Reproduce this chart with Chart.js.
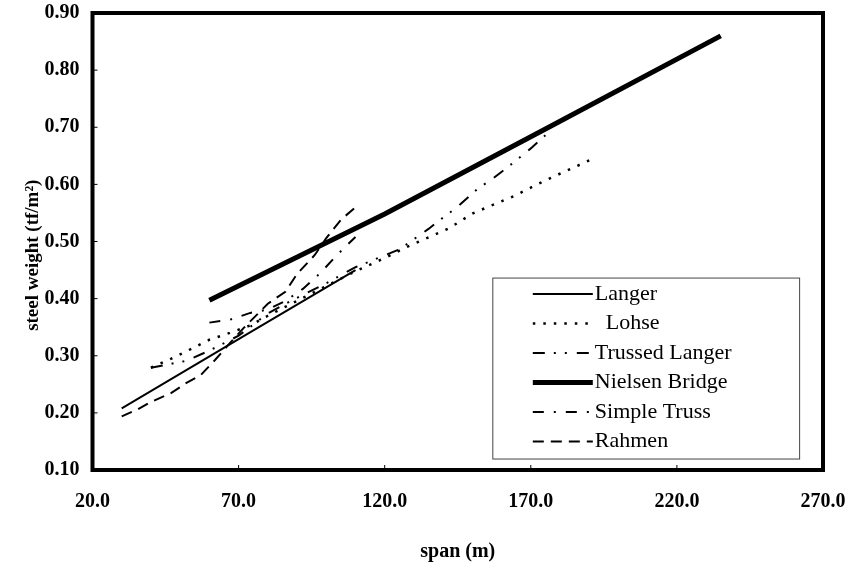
<!DOCTYPE html>
<html>
<head>
<meta charset="utf-8">
<script src="https://cdn.jsdelivr.net/npm/chart.js@4.4.1/dist/chart.umd.min.js"></script>
<style>
    html, body { margin: 0; padding: 0; background: #fff; }
</style>
</head>
<body>
<canvas id="steel_chart" width="850" height="562"></canvas>
<script>
'use strict';
// values: span (m) vs steel weight (tf/m2)
var langerSpan = [30, 70, 110];
var langerWeight = [0.208, 0.329, 0.450];

var lohseSpan = [40, 47, 53, 60, 67, 74, 80, 90, 100, 110, 120, 127, 142, 150, 164, 175, 190];
var lohseWeight = [0.279, 0.295, 0.310, 0.328, 0.340, 0.353, 0.370, 0.396, 0.422, 0.448, 0.471, 0.489, 0.523, 0.549, 0.579, 0.607, 0.642];

var trussedSpan = [40, 45, 52, 60, 70, 80, 86, 100, 110, 125, 135, 139, 145, 152, 157, 165, 170, 175];
var trussedWeight = [0.279, 0.284, 0.291, 0.309, 0.335, 0.374, 0.391, 0.427, 0.455, 0.486, 0.522, 0.538, 0.561, 0.593, 0.610, 0.642, 0.663, 0.686];

var nielsenSpan = [60, 120, 175, 235];
var nielsenWeight = [0.397, 0.548, 0.697, 0.860];

var simpleSpan = [60, 67, 74, 80, 86, 92, 98, 104, 110];
var simpleWeight = [0.358, 0.363, 0.375, 0.381, 0.396, 0.417, 0.445, 0.478, 0.508];

var rahmenSpan = [30, 35, 40, 47, 52, 57, 62, 67, 72, 80, 86, 90, 96, 100, 105, 110];
var rahmenWeight = [0.194, 0.205, 0.219, 0.235, 0.252, 0.266, 0.293, 0.322, 0.350, 0.391, 0.412, 0.443, 0.476, 0.506, 0.538, 0.560];

var xTicks = [20, 70, 120, 170, 220, 270];
var yTicks = [0.1, 0.2, 0.3, 0.4, 0.5, 0.6, 0.7, 0.8, 0.9];

function pts (xs, ys) {
    var out = [];
    for (let i = 0; i < xs.length; i++) {
        out.push({ x: xs[i], y: ys[i] });
    }
    return out;
}

function series (label, xs, ys, width, dash) {
    return {
        label: label,
        data: pts(xs, ys),
        showLine: true,
        borderColor: '#000',
        backgroundColor: '#000',
        borderWidth: width,
        borderDash: dash,
        pointRadius: 0,
        tension: 0,
        fill: false
    };
}

var serif = "'Liberation Serif', 'Times New Roman', serif";

// box round the plot, inward tick marks, y title and the boxed legend
var framePlugin = {
    id: 'frame',
    afterDraw: function (chart) {
        var ctx = chart.ctx,
            a = chart.chartArea,
            xs = chart.scales.x,
            ys = chart.scales.y;
        var w = a.right - a.left, h = a.bottom - a.top;
        ctx.save();
        ctx.strokeStyle = '#000';
        ctx.lineWidth = 1;
        ctx.setLineDash([]);
        xTicks.forEach(function (v) {
            var px = xs.getPixelForValue(v);
            ctx.beginPath();
            ctx.moveTo(px, a.bottom);
            ctx.lineTo(px, a.bottom - 5);
            ctx.stroke();
        });
        yTicks.forEach(function (v) {
            var py = ys.getPixelForValue(v);
            ctx.beginPath();
            ctx.moveTo(a.left, py);
            ctx.lineTo(a.left + 5, py);
            ctx.stroke();
        });
        ctx.lineWidth = 4;
        ctx.strokeRect(a.left, a.top, w, h);

        // y axis title, sits a little below the middle in the original
        ctx.save();
        ctx.translate(33.5, a.top + h * 0.53);
        ctx.rotate(-Math.PI / 2);
        ctx.font = 'bold 19px ' + serif;
        ctx.fillStyle = '#000';
        ctx.textAlign = 'center';
        ctx.textBaseline = 'middle';
        ctx.fillText('steel weight (tf/m²)', 0, 0);
        ctx.restore();

        // legend
        var bx = a.left + w * 0.548, by = a.top + h * 0.58;
        var bw = w * 0.42, bh = h * 0.396;
        ctx.lineWidth = 1;
        ctx.strokeStyle = '#444';
        ctx.strokeRect(bx, by, bw, bh);
        ctx.font = '22px ' + serif;
        ctx.fillStyle = '#000';
        ctx.textBaseline = 'middle';
        chart.data.datasets.forEach(function (ds, i) {
            var ry = by + 16 + i * 29.5;
            ctx.strokeStyle = '#000';
            ctx.lineWidth = ds.borderWidth;
            ctx.setLineDash(ds.borderDash);
            ctx.beginPath();
            ctx.moveTo(bx + 40, ry);
            ctx.lineTo(bx + 100, ry);
            ctx.stroke();
            ctx.setLineDash([]);
            ctx.fillText(ds.label, bx + 102, ry);
        });
        ctx.restore();
    }
};

var chart = new Chart(document.getElementById('steel_chart'), {
    type: 'scatter',
    data: {
        datasets: [
            series('Langer', langerSpan, langerWeight, 2, []),
            series('  Lohse', lohseSpan, lohseWeight, 2.5, [2.5, 8]),
            series('Trussed Langer', trussedSpan, trussedWeight, 2, [12, 9, 2, 9, 2, 10]),
            series('Nielsen Bridge', nielsenSpan, nielsenWeight, 5, []),
            series('Simple Truss', simpleSpan, simpleWeight, 2, [11, 10, 2, 10]),
            series('Rahmen', rahmenSpan, rahmenWeight, 2, [11, 7])
        ]
    },
    options: {
        responsive: false,
        animation: false,
        devicePixelRatio: 1,
        layout: { padding: { top: 13, right: 27, left: 0, bottom: 0 } },
        plugins: {
            legend: { display: false },
            tooltip: { enabled: false }
        },
        scales: {
            x: {
                type: 'linear',
                min: 20,
                max: 270,
                afterBuildTicks: function (scale) {
                    scale.ticks = xTicks.map(function (v) { return { value: v }; });
                },
                afterFit: function (scale) {
                    scale.height = 92;
                    scale.paddingLeft = 0;
                    scale.paddingRight = 0;
                },
                grid: { display: false, drawTicks: false },
                border: { display: false },
                ticks: {
                    padding: 20,
                    autoSkip: false,
                    maxRotation: 0,
                    color: '#000',
                    font: { family: serif, size: 20, weight: 'bold' },
                    callback: function (v) { return v.toFixed(1); }
                },
                title: {
                    display: true,
                    text: 'span (m)',
                    color: '#000',
                    font: { family: serif, size: 20, weight: 'bold', lineHeight: 1 },
                    padding: { top: 0, bottom: 0 }
                }
            },
            y: {
                type: 'linear',
                min: 0.1,
                max: 0.9,
                afterBuildTicks: function (scale) {
                    scale.ticks = yTicks.map(function (v) { return { value: v }; });
                },
                afterFit: function (scale) {
                    scale.width = 92.5;
                    scale.paddingTop = 0;
                    scale.paddingBottom = 0;
                },
                grid: { display: false, drawTicks: false },
                border: { display: false },
                ticks: {
                    padding: 13,
                    autoSkip: false,
                    color: '#000',
                    font: { family: serif, size: 20, weight: 'bold' },
                    callback: function (v) { return v.toFixed(2); }
                },
                title: { display: false }
            }
        }
    },
    plugins: [framePlugin]
});
</script>
</body>
</html>
